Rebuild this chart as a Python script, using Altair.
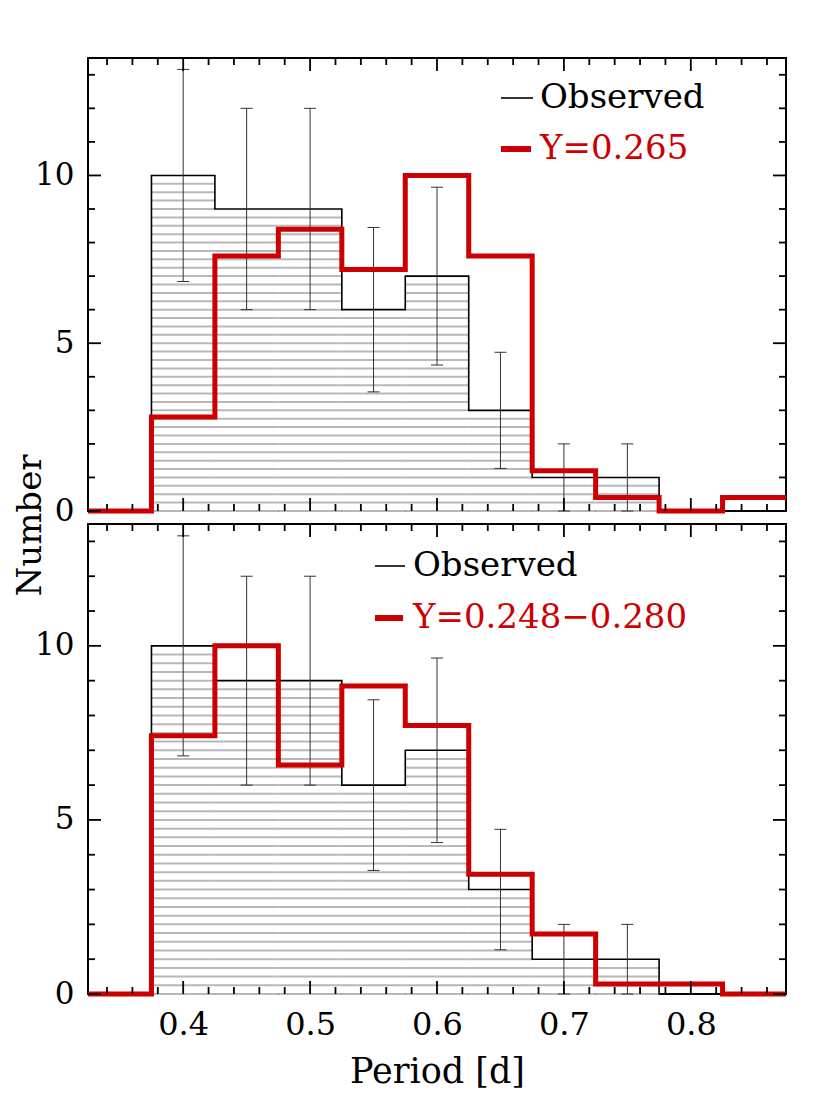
import altair as alt
import pandas as pd
import numpy as np

FONT = "DejaVu Serif"
RED = "#cc0000"

# ---- data ----
bin_edges = [0.325, 0.375, 0.425, 0.475, 0.525, 0.575, 0.625, 0.675, 0.725, 0.775, 0.825, 0.875]
obs_counts = [0, 10, 9, 9, 6, 7, 3, 1, 1, 0, 0]
model_top = [0, 2.8, 7.6, 8.4, 7.2, 10.0, 7.6, 1.2, 0.4, 0.0, 0.4]
model_bottom = [0, 7.42, 10.0, 6.58, 8.85, 7.71, 3.44, 1.72, 0.29, 0.29, 0.0]
err_centers = [0.40, 0.45, 0.50, 0.55, 0.60, 0.65, 0.70, 0.75]
err_lo = [6.84, 6.0, 6.0, 3.55, 4.35, 1.27, 0.0, 0.0]
err_hi = [13.16, 12.0, 12.0, 8.45, 9.65, 4.73, 2.0, 2.0]
x_major = [0.4, 0.5, 0.6, 0.7, 0.8]
x_minor = [0.34, 0.36, 0.38, 0.42, 0.44, 0.46, 0.48, 0.52, 0.54, 0.56, 0.58,
           0.62, 0.64, 0.66, 0.68, 0.72, 0.74, 0.76, 0.78, 0.82, 0.84, 0.86]
y_major = [0, 5, 10]
y_minor = [1, 2, 3, 4, 6, 7, 8, 9, 11, 12, 13]
labels_top = ["Observed", "Y=0.265"]
labels_bottom = ["Observed", "Y=0.248\u22120.280"]
x_title = "Period [d]"
y_title = "Number"

W = 698
H_TOP = 453
H_BOT = 470
HATCH_STEP = 0.25

def step_df(vals):
    return pd.DataFrame({"x": bin_edges, "y": list(vals) + [vals[-1]]})

rows = []
for i, c in enumerate(obs_counts):
    for lev in np.arange(0, c, HATCH_STEP):
        rows.append({"x": bin_edges[i], "x2": bin_edges[i + 1], "y": float(lev)})
hatch_df = pd.DataFrame(rows)
err_df = pd.DataFrame({"x": err_centers, "lo": err_lo, "hi": err_hi})


def panel(model, labels, H, leg, top):
    xs = alt.Scale(domain=[0.325, 0.875], nice=False, zero=False)
    ys = alt.Scale(domain=[0, 13.5], nice=False, zero=False)
    if top:
        xaxis = None
    else:
        xaxis = alt.Axis(values=x_major, format=".1f", ticks=False, domain=False, grid=False,
                         labelFont=FONT, labelFontSize=32, labelPadding=15, labelColor="black",
                         title=x_title, titleFont=FONT, titleFontSize=35, titleFontWeight="normal",
                         titlePadding=14, titleColor="black")
    ykw = dict(values=y_major, ticks=False, domain=False, grid=False,
               labelFont=FONT, labelFontSize=31, labelPadding=14, labelColor="black")
    if top:
        ykw.update(title=y_title, titleFont=FONT, titleFontSize=34, titleFontWeight="normal",
                   titleColor="black", titleX=-58, titleY=467, titleAngle=270,
                   titleAlign="center", titleBaseline="middle")
    else:
        ykw.update(title=None)
    yaxis = alt.Axis(**ykw)

    X = lambda f="x": alt.X(f"{f}:Q", scale=xs, axis=xaxis)
    Y = lambda f="y": alt.Y(f"{f}:Q", scale=ys, axis=yaxis)

    layers = []
    layers.append(alt.Chart(hatch_df).mark_rule(color="#b8b8b8", strokeWidth=2).encode(
        x=X(), x2="x2:Q", y=Y()))
    layers.append(alt.Chart(step_df(obs_counts)).mark_line(
        interpolate="step-after", color="black", strokeWidth=1.6).encode(x=X(), y=Y()))
    layers.append(alt.Chart(err_df).mark_rule(color="#333333", strokeWidth=1).encode(
        x=X(), y=Y("lo"), y2="hi:Q"))
    for f in ["lo", "hi"]:
        layers.append(alt.Chart(err_df).mark_tick(orient="horizontal", size=12, thickness=1,
                                                  color="#333333", opacity=1).encode(x=X(), y=Y(f)))
    layers.append(alt.Chart(step_df(model)).mark_line(
        interpolate="step-after", color=RED, strokeWidth=5, strokeJoin="miter").encode(x=X(), y=Y()))

    # inward ticks on all four sides
    for vals, L in [(x_major, 13), (x_minor, 7)]:
        d = pd.DataFrame({"x": vals})
        layers.append(alt.Chart(d).mark_rule(color="black", strokeWidth=1.8).encode(
            x=X(), y=alt.value(0), y2=alt.value(L)))
        layers.append(alt.Chart(d).mark_rule(color="black", strokeWidth=1.8).encode(
            x=X(), y=alt.value(H - L), y2=alt.value(H)))
    for vals, L in [(y_major, 13), (y_minor, 7)]:
        d = pd.DataFrame({"y": vals})
        layers.append(alt.Chart(d).mark_rule(color="black", strokeWidth=1.8).encode(
            y=Y(), x=alt.value(0), x2=alt.value(L)))
        layers.append(alt.Chart(d).mark_rule(color="black", strokeWidth=1.8).encode(
            y=Y(), x=alt.value(W - L), x2=alt.value(W)))

    # legend
    (lx0, lx1, tx, y1, y2) = leg
    dummy = pd.DataFrame({"a": [0]})
    layers.append(alt.Chart(dummy).mark_rule(color="black", strokeWidth=1.6).encode(
        x=alt.value(lx0), x2=alt.value(lx1), y=alt.value(y1)))
    layers.append(alt.Chart(dummy).mark_rule(color=RED, strokeWidth=6).encode(
        x=alt.value(lx0), x2=alt.value(lx1 - 2), y=alt.value(y2)))
    layers.append(alt.Chart(dummy).mark_text(text=labels[0], font=FONT, fontSize=34, color="black",
                                             align="left", baseline="middle").encode(
        x=alt.value(tx), y=alt.value(y1)))
    layers.append(alt.Chart(dummy).mark_text(text=labels[1], font=FONT, fontSize=34, color=RED,
                                             align="left", baseline="middle").encode(
        x=alt.value(tx), y=alt.value(y2)))

    return alt.layer(*layers).properties(width=W, height=H)


top = panel(model_top, labels_top, H_TOP, (413, 445, 452, 40, 91), True)
bottom = panel(model_bottom, labels_bottom, H_BOT, (287, 317, 325, 42, 94), False)

chart = alt.vconcat(top, bottom, spacing=13, bounds="flush").properties(
    padding={"left": 4, "top": 48, "right": 10, "bottom": 10},
).configure_view(stroke="black", strokeWidth=2)

chart.save("out.html", embed_options={"renderer": "svg", "actions": False})
